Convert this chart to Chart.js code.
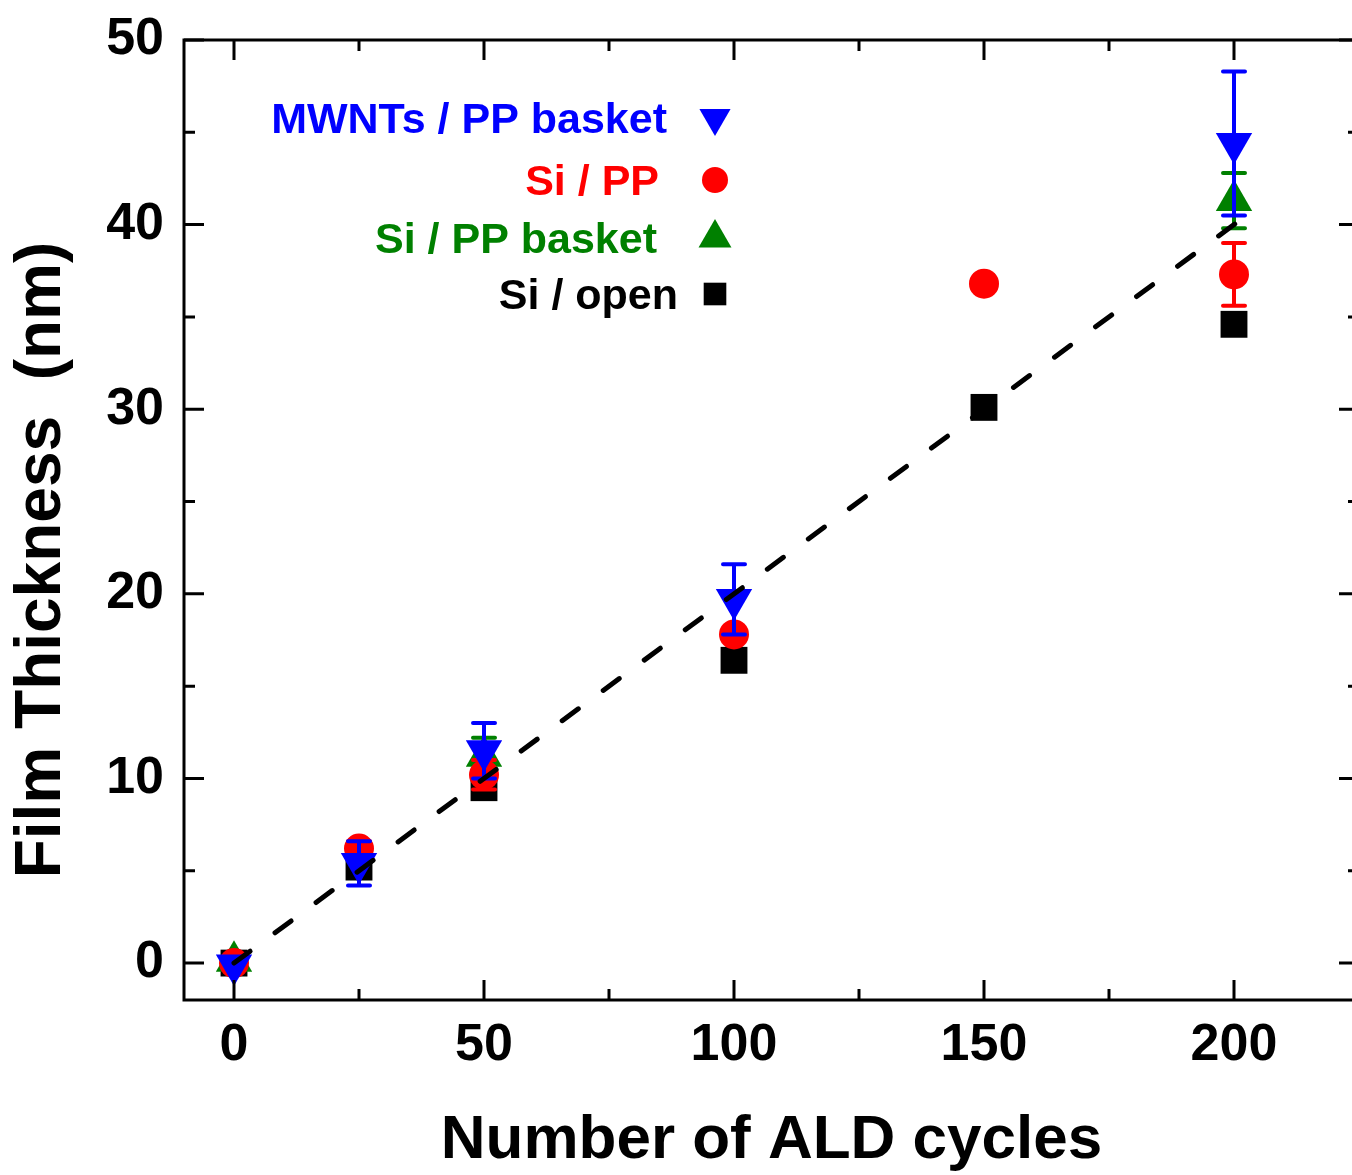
<!DOCTYPE html>
<html>
<head>
<meta charset="utf-8">
<title>Film thickness vs ALD cycles</title>
<script src="https://cdn.jsdelivr.net/npm/chart.js@4.4.1/dist/chart.umd.min.js"></script>
<style>
  html, body { margin: 0; padding: 0; background: #fff; overflow: hidden; }
  #wrap { position: relative; width: 1362px; height: 1175px; }
  canvas { display: block; }
</style>
</head>
<body>
<div id="wrap"><canvas id="thickness-chart" width="1362" height="1175" style="width:1362px;height:1175px"></canvas></div>
<script>
/* values */
const mwntsX   = [0, 25, 50, 100, 200];
const mwntsY   = [-0.1, 5.4, 11.5, 19.7, 44.4];
const mwntsErr = [0, 1.2, 1.5, 1.9, 3.9];

const siPpX   = [0, 25, 50, 100, 150, 200];
const siPpY   = [0, 6.2, 10.2, 17.8, 36.8, 37.3];
const siPpErr = [0, 0.4, 0.8, 0.3, 0, 1.7];

const siBasketX   = [0, 50, 200];
const siBasketY   = [0.1, 11.2, 41.3];
const siBasketErr = [0, 1.0, 1.5];

const siOpenX = [0, 25, 50, 100, 150, 200];
const siOpenY = [0, 5.2, 9.5, 16.4, 30.1, 34.6];

const fitX = [0, 202];
const fitY = [0, 40.4];

const xTicks = [0, 50, 100, 150, 200];
const yTicks = [0, 10, 20, 30, 40, 50];

const FONT = "'Liberation Sans', Arial, Helvetica, sans-serif";

const pts = (xs, ys) => xs.map((x, i) => ({ x, y: ys[i] }));

// chart.js adds room for overflowing labels; the frame here is fixed instead
const fixBox = (s, prop, size) => {
  s[prop] = size;
  s.paddingTop = s.paddingBottom = s.paddingLeft = s.paddingRight = 0;
};

// frame on all four sides with inward ticks (major + minor)
const frameTicks = {
  id: 'frameTicks',
  afterDatasetsDraw(chart) {
    const { ctx, chartArea: a, scales: { x, y } } = chart;
    ctx.save();
    ctx.strokeStyle = '#000';
    ctx.lineWidth = 3;
    ctx.strokeRect(a.left, a.top, a.right - a.left, a.bottom - a.top);
    ctx.beginPath();
    x.ticks.forEach(t => {
      if (t.value % 25 !== 0) return;
      const len = xTicks.includes(t.value) ? 20 : 11;
      const px = x.getPixelForValue(t.value);
      ctx.moveTo(px, a.bottom); ctx.lineTo(px, a.bottom - len);
      ctx.moveTo(px, a.top); ctx.lineTo(px, a.top + len);
    });
    y.ticks.forEach(t => {
      if (t.value % 5 !== 0) return;
      const len = yTicks.includes(t.value) ? 20 : 11;
      const py = y.getPixelForValue(t.value);
      ctx.moveTo(a.left, py); ctx.lineTo(a.left + len, py);
      ctx.moveTo(a.right, py); ctx.lineTo(a.right - len, py);
    });
    ctx.stroke();
    ctx.restore();
  }
};

// vertical error bars, drawn right after their own dataset
const errorBars = {
  id: 'errorBars',
  afterDatasetDraw(chart, args) {
    const ds = chart.data.datasets[args.index];
    if (!ds.errors) return;
    const { ctx, scales: { y } } = chart;
    ctx.save();
    ctx.strokeStyle = ds.backgroundColor;
    ctx.lineWidth = 4;
    ctx.lineCap = 'round';
    args.meta.data.forEach((pt, i) => {
      const e = ds.errors[i];
      if (!e) return;
      const v = ds.data[i].y;
      const top = y.getPixelForValue(v + e);
      const bot = y.getPixelForValue(v - e);
      ctx.beginPath();
      ctx.moveTo(pt.x, top); ctx.lineTo(pt.x, bot);
      ctx.moveTo(pt.x - 11, top); ctx.lineTo(pt.x + 11, top);
      ctx.moveTo(pt.x - 11, bot); ctx.lineTo(pt.x + 11, bot);
      ctx.stroke();
    });
    ctx.restore();
  }
};

// legend: right-aligned label, symbol to its right
const seriesKey = {
  id: 'seriesKey',
  afterDraw(chart, args, opts) {
    const { ctx } = chart;
    ctx.save();
    ctx.font = `bold ${opts.size}px ${FONT}`;
    ctx.textAlign = 'right';
    ctx.textBaseline = 'middle';
    chart.data.datasets.filter(d => d.keyLabel).forEach((d, i) => {
      const row = opts.rows[i];
      ctx.fillStyle = d.backgroundColor;
      ctx.fillText(d.keyLabel, row.right, row.y);
      Chart.helpers.drawPoint(ctx, {
        pointStyle: d.pointStyle,
        rotation: d.pointRotation || 0,
        radius: row.r,
        borderWidth: 0
      }, opts.markerX, row.y - 3);
    });
    ctx.restore();
  }
};

const axisTitles = {
  id: 'axisTitles',
  afterDraw(chart) {
    const { ctx, chartArea: a } = chart;
    ctx.save();
    ctx.fillStyle = '#000';
    ctx.textAlign = 'center';
    ctx.textBaseline = 'middle';
    ctx.font = `bold 62px ${FONT}`;
    ctx.fillText('Number of ALD cycles', (a.left + a.right) / 2, 1141);
    ctx.translate(42, 560);
    ctx.rotate(-Math.PI / 2);
    ctx.font = `bold 64px ${FONT}`;
    ctx.fillText('Film Thickness  (nm)', 0, 0);
    ctx.restore();
  }
};

const tickFont = { family: FONT, size: 52, weight: 'bold' };

new Chart(document.getElementById('thickness-chart'), {
  type: 'scatter',
  data: {
    datasets: [
      {
        type: 'line',
        data: pts(fitX, fitY),
        borderColor: '#000',
        borderWidth: 5,
        borderDash: [20, 31],
        borderCapStyle: 'round',
        pointRadius: 0,
        fill: false
      },
      {
        keyLabel: 'MWNTs / PP basket',
        data: pts(mwntsX, mwntsY),
        errors: mwntsErr,
        backgroundColor: '#0000ff',
        pointStyle: 'triangle',
        pointRotation: 180,
        pointRadius: 21,
        pointBorderWidth: 0
      },
      {
        keyLabel: 'Si / PP',
        data: pts(siPpX, siPpY),
        errors: siPpErr,
        backgroundColor: '#ff0000',
        pointStyle: 'circle',
        pointRadius: 15,
        pointBorderWidth: 0
      },
      {
        keyLabel: 'Si / PP basket',
        data: pts(siBasketX, siBasketY),
        errors: siBasketErr,
        backgroundColor: '#008000',
        pointStyle: 'triangle',
        pointRadius: 21,
        pointBorderWidth: 0
      },
      {
        keyLabel: 'Si / open',
        data: pts(siOpenX, siOpenY),
        backgroundColor: '#000000',
        pointStyle: 'rect',
        pointRadius: 19,
        pointBorderWidth: 0
      }
    ]
  },
  options: {
    responsive: false,
    animation: false,
    layout: { autoPadding: false, padding: { top: 40, right: 3, left: 0, bottom: 0 } },
    plugins: {
      legend: { display: false },
      tooltip: { enabled: false },
      seriesKey: {
        size: 43,
        markerX: 715,
        rows: [
          { right: 667, y: 121, r: 18 },
          { right: 659, y: 183, r: 13 },
          { right: 657, y: 241, r: 19 },
          { right: 678, y: 297, r: 16 }
        ]
      }
    },
    scales: {
      x: {
        type: 'linear',
        min: -10,
        max: 225,
        afterFit: s => fixBox(s, 'height', 175),
        grid: { display: false, drawTicks: false },
        border: { display: false },
        ticks: {
          stepSize: 25,
          includeBounds: false,
          autoSkip: false,
          maxRotation: 0,
          padding: 14,
          color: '#000',
          font: tickFont,
          callback: v => xTicks.includes(v) ? String(v) : ''
        }
      },
      y: {
        type: 'linear',
        min: -2,
        max: 50,
        afterFit: s => fixBox(s, 'width', 184),
        grid: { display: false, drawTicks: false },
        border: { display: false },
        ticks: {
          stepSize: 5,
          includeBounds: false,
          autoSkip: false,
          padding: 20,
          color: '#000',
          font: tickFont,
          callback: v => yTicks.includes(v) ? String(v) : ''
        }
      }
    }
  },
  plugins: [frameTicks, errorBars, seriesKey, axisTitles]
});
</script>
</body>
</html>
